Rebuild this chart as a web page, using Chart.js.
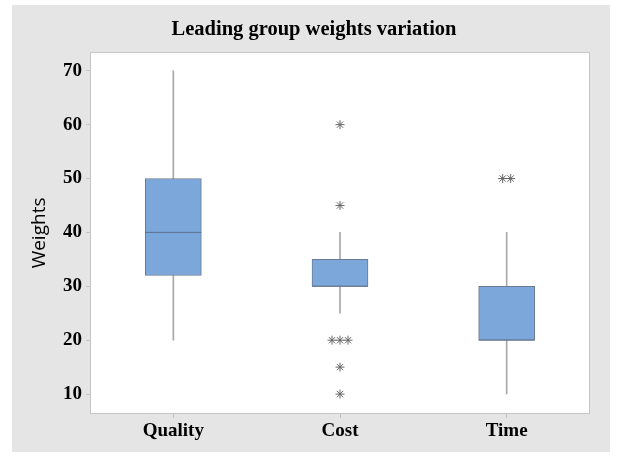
<!DOCTYPE html>
<html>
<head>
<meta charset="utf-8">
<script src="https://cdn.jsdelivr.net/npm/chart.js@4"></script>
<style>
  html, body { margin: 0; padding: 0; background: #fff; }
  #frame { position: absolute; left: 12px; top: 5px; width: 598px; height: 447px; background: #e5e5e5; }
  #chart { display: block; }
</style>
</head>
<body>
<div id="frame"><canvas id="chart" width="598" height="447"></canvas></div>
<script>
const categories = ['Quality', 'Cost', 'Time'];
const whiskerLow = [20, 25, 10];
const whiskerHigh = [70, 40, 40];
const q1 = [32, 30, 20];
const q3 = [50, 35, 30];
const medians = [40, 30, 20];
const outliers = [[], [60, 45, 20, 20, 20, 15, 10], [50, 50]];
const yTicks = [10, 20, 30, 40, 50, 60, 70];

const serif = '"Liberation Serif", "Times New Roman", serif';
const dodge = 0.048;

// spread repeated outlier values side by side, like Minitab does
function outlierPoints() {
    const pts = [];
    outliers.forEach((vals, i) => {
        const counts = {};
        vals.forEach(v => { counts[v] = (counts[v] || 0) + 1; });
        Object.keys(counts).forEach(k => {
            const n = counts[k];
            for (let j = 0; j < n; j++) {
                pts.push({x: i + (j - (n - 1) / 2) * dodge, y: Number(k)});
            }
        });
    });
    return pts;
}

const plotBox = {
    id: 'plotBox',
    beforeDatasetsDraw(chart) {
        const {ctx, chartArea: a} = chart;
        ctx.save();
        ctx.fillStyle = '#ffffff';
        ctx.fillRect(a.left, a.top, a.right - a.left, a.bottom - a.top);
        ctx.strokeStyle = '#c4c4c4';
        ctx.lineWidth = 1;
        ctx.strokeRect(a.left + 0.5, a.top + 0.5, a.right - a.left - 1, a.bottom - a.top - 1);
        ctx.restore();
    }
};

new Chart(document.getElementById('chart'), {
    data: {
        labels: categories,
        datasets: [
            {
                type: 'scatter',
                label: 'outliers',
                xAxisID: 'xo',
                data: outlierPoints(),
                pointStyle: 'star',
                radius: 4.5,
                borderColor: '#666666',
                borderWidth: 1,
                order: 0,
            },
            {
                type: 'scatter',
                label: 'median',
                data: categories.map((c, i) => ({x: c, y: medians[i]})),
                pointStyle: 'line',
                radius: 28,
                borderColor: '#5f7390',
                borderWidth: 1,
                order: 1,
            },
            {
                type: 'bar',
                label: 'box',
                data: categories.map((c, i) => [q1[i], q3[i]]),
                backgroundColor: '#7ba7da',
                borderColor: '#6a7a90',
                borderWidth: 1,
                borderSkipped: false,
                barThickness: 56,
                grouped: false,
                order: 2,
            },
            {
                type: 'bar',
                label: 'whisker',
                data: categories.map((c, i) => [whiskerLow[i], whiskerHigh[i]]),
                backgroundColor: '#a8a8a8',
                borderWidth: 0,
                barThickness: 1,
                grouped: false,
                order: 3,
            },
        ]
    },
    options: {
        responsive: false,
        animation: false,
        layout: {autoPadding: false, padding: {left: 26, right: 20, top: 0, bottom: 0}},
        plugins: {
            legend: {display: false},
            tooltip: {enabled: false},
            title: {
                display: true,
                text: 'Leading group weights variation',
                color: '#000',
                font: {family: serif, size: 20.5, weight: 'bold'},
                padding: {top: 12.5, bottom: 9.8},
            },
        },
        scales: {
            x: {
                type: 'category',
                offset: true,
                grid: {display: true, offset: false, drawOnChartArea: false, tickLength: 4, color: '#c4c4c4'},
                border: {display: false},
                ticks: {color: '#000', font: {family: serif, size: 19, weight: 'bold'}, padding: 2},
                afterFit(scale) {
                    scale.height = 38;
                    scale.paddingLeft = 0;
                    scale.paddingRight = 0;
                },
            },
            xo: {
                type: 'linear',
                min: -0.5,
                max: 2.5,
                offset: false,
                display: false,
            },
            y: {
                min: 6.3,
                max: 73.5,
                grid: {display: true, drawOnChartArea: false, tickLength: 4, color: '#c4c4c4'},
                border: {display: false},
                afterBuildTicks(scale) { scale.ticks = yTicks.map(v => ({value: v})); },
                ticks: {color: '#000', font: {family: serif, size: 19, weight: 'bold'}, padding: 4},
                title: {
                    display: true,
                    text: 'Weights',
                    color: '#000',
                    font: {family: '"Open Sans", sans-serif', size: 19},
                    padding: {top: -9.4, bottom: 0},
                },
                afterFit(scale) { scale.width = 52; },
            },
        },
    },
    plugins: [plotBox],
});
</script>
</body>
</html>
